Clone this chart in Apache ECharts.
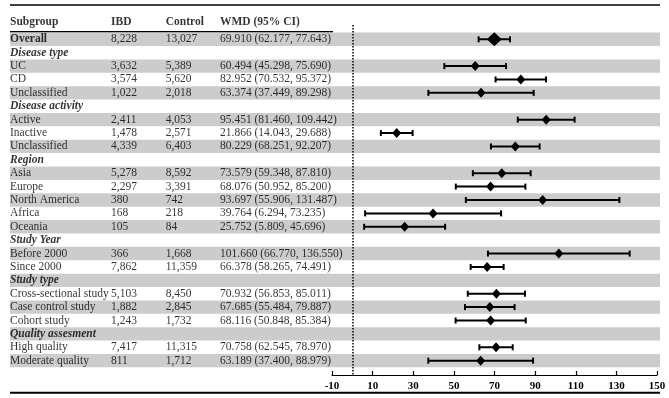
<!DOCTYPE html>
<html>
<head>
<meta charset="utf-8">
<script src="https://cdn.jsdelivr.net/npm/echarts@6/dist/echarts.min.js"></script>
<style>
html, body { margin: 0; padding: 0; background: #fff; }
#main { width: 669px; height: 398px; }
</style>
</head>
<body>
<div id="main"></div>
<script>
var headers = ['Subgroup', 'IBD', 'Control', 'WMD (95% CI)'];

var subgroups = ['Overall', 'Disease type', 'UC', 'CD', 'Unclassified',
  'Disease activity', 'Active', 'Inactive', 'Unclassified',
  'Region', 'Asia', 'Europe', 'North America', 'Africa', 'Oceania',
  'Study Year', 'Before 2000', 'Since 2000',
  'Study type', 'Cross-sectional study', 'Case control study', 'Cohort study',
  'Quality assesment', 'High quality', 'Moderate quality'];

// rows that are section headings (bold italic)
var headingRows = [1, 5, 9, 15, 18, 22];

var ibd = ['8,228', '', '3,632', '3,574', '1,022', '', '2,411', '1,478', '4,339', '',
  '5,278', '2,297', '380', '168', '105', '', '366', '7,862', '',
  '5,103', '1,882', '1,243', '', '7,417', '811'];

var control = ['13,027', '', '5,389', '5,620', '2,018', '', '4,053', '2,571', '6,403', '',
  '8,592', '3,391', '742', '218', '84', '', '1,668', '11,359', '',
  '8,450', '2,845', '1,732', '', '11,315', '1,712'];

var wmd = [69.910, null, 60.494, 82.952, 63.374, null, 95.451, 21.866, 80.229, null,
  73.579, 68.076, 93.697, 39.764, 25.752, null, 101.660, 66.378, null,
  70.932, 67.685, 68.116, null, 70.758, 63.189];

var lower = [62.177, null, 45.298, 70.532, 37.449, null, 81.460, 14.043, 68.251, null,
  59.348, 50.952, 55.906, 6.294, 5.809, null, 66.770, 58.265, null,
  56.853, 55.484, 50.848, null, 62.545, 37.400];

var upper = [77.643, null, 75.690, 95.372, 89.298, null, 109.442, 29.688, 92.207, null,
  87.810, 85.200, 131.487, 73.235, 45.696, null, 136.550, 74.491, null,
  85.011, 79.887, 85.384, null, 78.970, 88.979];

var xMin = -10, xMax = 150, xStep = 20;

var myChart = echarts.init(document.getElementById('main'));

// layout
var FONT = 'Liberation Serif';
var yMin = -1.815, yMax = 25.07;      // row index range shown by both grids
var headerY = -1.31;
var colX = [0, 101, 155.7, 210];      // column offsets (px) in table grid

function ciText(i) {
  return wmd[i].toFixed(3) + ' (' + lower[i].toFixed(3) + ', ' + upper[i].toFixed(3) + ')';
}

// table cells
var cells = [];
headers.forEach(function (h, c) {
  cells.push({ value: [colX[c], headerY], name: h, label: { fontWeight: 'bold' } });
});
subgroups.forEach(function (s, i) {
  var lab = {};
  if (headingRows.indexOf(i) >= 0) lab = { fontWeight: 'bold', fontStyle: 'italic' };
  if (i === 0) lab = { fontWeight: 'bold' };
  cells.push({ value: [colX[0], i], name: s, label: lab });
  if (wmd[i] != null) {
    cells.push({ value: [colX[1], i], name: ibd[i] });
    cells.push({ value: [colX[2], i], name: control[i] });
    cells.push({ value: [colX[3], i], name: ciText(i) });
  }
});

var bands = [];
subgroups.forEach(function (s, i) {
  if (i % 2 === 0) bands.push([0, i]);
});

var bars = [];
var points = [];
subgroups.forEach(function (s, i) {
  if (wmd[i] == null) return;
  bars.push([lower[i], upper[i], i]);
  points.push({ value: [wmd[i], i], symbolSize: i === 0 ? [15, 14] : [9, 10] });
});

var option = {
  animation: false,
  textStyle: { fontFamily: FONT },
  grid: [
    { left: 10, right: 9, top: 15, bottom: 23 },
    { left: 332, right: 12, top: 15, bottom: 23 }
  ],
  xAxis: [
    { gridIndex: 0, type: 'value', min: 0, max: 650, show: false },
    {
      gridIndex: 1, type: 'value', min: xMin, max: xMax, interval: xStep,
      axisLine: { onZero: false, lineStyle: { color: '#000', width: 1.2 } },
      axisTick: { inside: true, length: 4, lineStyle: { color: '#000', width: 1.2 } },
      axisLabel: { color: '#000', fontWeight: 'bold', fontSize: 11, fontFamily: FONT, margin: 6 },
      splitLine: { show: false }
    }
  ],
  yAxis: [
    { gridIndex: 0, type: 'value', inverse: true, min: yMin, max: yMax, show: false },
    { gridIndex: 1, type: 'value', inverse: true, min: yMin, max: yMax, show: false }
  ],
  graphic: [
    { type: 'line', shape: { x1: 10, y1: 5, x2: 660, y2: 5 }, style: { stroke: '#000', lineWidth: 1.5 } },
    { type: 'line', shape: { x1: 10, y1: 31.7, x2: 333, y2: 31.7 }, style: { stroke: '#000', lineWidth: 1.5 } },
    { type: 'line', shape: { x1: 10, y1: 392.7, x2: 660, y2: 392.7 }, style: { stroke: '#000', lineWidth: 2 } }
  ],
  series: [
    {
      // alternating grey row bands
      type: 'custom',
      xAxisIndex: 0, yAxisIndex: 0,
      silent: true,
      z: 1,
      renderItem: function (params, api) {
        var y = api.value(1);
        var p0 = api.coord([0, y - 0.5]);
        var p1 = api.coord([650, y + 0.5]);
        return {
          type: 'rect',
          shape: { x: p0[0], y: p0[1], width: p1[0] - p0[0], height: p1[1] - p0[1] },
          style: { fill: '#cccccc' }
        };
      },
      data: bands
    },
    {
      // table text
      type: 'scatter',
      xAxisIndex: 0, yAxisIndex: 0,
      symbolSize: 0,
      silent: true,
      z: 3,
      label: {
        show: true,
        position: 'right',
        distance: 0,
        color: '#000',
        fontSize: 11.5,
        fontFamily: FONT,
        formatter: function (p) { return p.name; }
      },
      data: cells
    },
    {
      // confidence intervals
      type: 'custom',
      xAxisIndex: 1, yAxisIndex: 1,
      z: 4,
      renderItem: function (params, api) {
        var a = api.coord([api.value(0), api.value(2)]);
        var b = api.coord([api.value(1), api.value(2)]);
        var st = { stroke: '#000', lineWidth: 2 };
        return {
          type: 'group',
          children: [
            { type: 'line', shape: { x1: a[0], y1: a[1], x2: b[0], y2: b[1] }, style: st },
            { type: 'line', shape: { x1: a[0], y1: a[1] - 3, x2: a[0], y2: a[1] + 3 }, style: st },
            { type: 'line', shape: { x1: b[0], y1: b[1] - 3, x2: b[0], y2: b[1] + 3 }, style: st }
          ]
        };
      },
      data: bars
    },
    {
      // point estimates
      type: 'scatter',
      xAxisIndex: 1, yAxisIndex: 1,
      symbol: 'diamond',
      z: 5,
      itemStyle: { color: '#000', opacity: 1 },
      markLine: {
        silent: true,
        symbol: 'none',
        label: { show: false },
        lineStyle: { color: '#000', type: 'dotted', width: 1.5 },
        data: [[{ coord: [0, -1.068] }, { coord: [0, yMax] }]]
      },
      data: points
    }
  ]
};

option && myChart.setOption(option);
</script>
</body>
</html>
